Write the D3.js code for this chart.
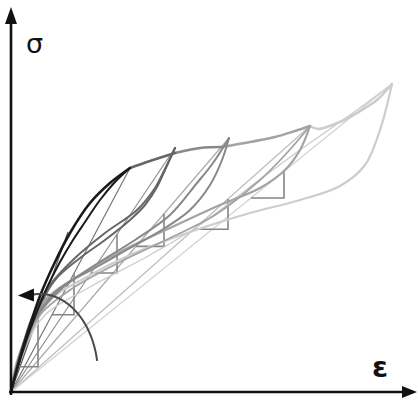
<!DOCTYPE html>
<html>
<head>
<meta charset="utf-8">
<script src="https://cdnjs.cloudflare.com/ajax/libs/d3/7.8.5/d3.min.js"></script>
<style>
  html, body { margin: 0; padding: 0; background: #fff; }
  svg { display: block; }
</style>
</head>
<body>
<svg id="canvas"></svg>
<script>
// strain / stress in arbitrary units (no tick labels on the original)
const peaks = [[119, 224], [164, 244], [218, 254], [299, 266], [381, 308]];

// primary loading curve, split per cycle
const envelope1 = [[0, 0], [7, 27], [15, 54], [29, 96], [44, 130], [59, 159], [79, 189], [99, 209], [119, 224]];
const envelope2 = [[119, 224], [139, 231], [164, 239]];
const envelope3 = [[164, 239], [189, 244], [211, 245]];
const envelope4 = [[211, 245], [239, 250], [264, 255], [284, 261], [299, 266]];
const envelope5 = [[299, 266], [307, 263], [324, 268], [339, 275], [354, 284], [366, 292], [381, 308]];

// reloading curves (origin -> peak)
const reload2 = [[0, 0], [9, 37], [21, 74], [39, 107], [64, 134], [94, 159], [126, 182], [144, 204], [152, 219], [164, 244]];
const reload3 = [[0, 0], [11, 40], [25, 74], [49, 102], [84, 127], [124, 152], [159, 177], [186, 209], [202, 229], [218, 254]];
const reload4 = [[0, 0], [13, 42], [29, 77], [59, 102], [109, 130], [159, 154], [204, 177], [249, 212], [274, 237], [299, 266]];
const reload5 = [[0, 0], [14, 44], [34, 77], [79, 105], [139, 137], [189, 167], [239, 205], [289, 242], [339, 277], [381, 308]];

// unloading curves (peak -> origin)
const unload1 = [[119, 224], [104, 210], [89, 192], [74, 170], [62, 152], [49, 130], [34, 100], [19, 62], [9, 32], [0, 0]];
const unload2 = [[164, 244], [154, 222], [146, 205], [134, 187], [119, 172], [94, 152], [69, 134], [44, 112], [24, 77], [9, 37], [0, 0]];
const unload3 = [[218, 254], [211, 232], [199, 207], [179, 182], [154, 164], [119, 144], [84, 124], [49, 104], [24, 74], [9, 37], [0, 0]];
const unload4 = [[299, 266], [289, 242], [274, 222], [249, 204], [209, 187], [159, 164], [109, 140], [64, 114], [34, 92], [16, 57], [5, 27], [0, 0]];
const unload5 = [[381, 308], [369, 262], [354, 227], [329, 206], [289, 192], [239, 179], [179, 160], [119, 137], [74, 114], [39, 92], [19, 57], [6, 24], [0, 0]];

// initial tangent end point
const tangentEnd = [57, 160];

// slope triangles: [line index (0 = tangent, 1..5 = secant to peak), strain start, strain end]
const triangles = [[0, 9, 27], [1, 41, 63], [2, 80, 106], [3, 125, 153], [4, 183, 217], [5, 240, 273]];

// rotation arc (ellipse in data units) with arrow
const arcCenter = [29, 17];
const arcRadii = [58, 81];
const arcAngles = [10, 97];

const cycleColors = ['#1a1a1a', '#666', '#888', '#a3a3a3', '#cdcdcd'];
const secantColors = ['#555', '#777', '#8f8f8f', '#aaa', '#bdbdbd', '#d2d2d2'];

const width = 418;
const height = 401;

let canvas = d3.select('#canvas')
  .attr('width', width)
  .attr('height', height);

let xScale = d3.scaleLinear().domain([0, 400]).range([11, 411]);
let yScale = d3.scaleLinear().domain([0, 380]).range([392, 12]);

let line = d3.line()
  .x(d => xScale(d[0]))
  .y(d => yScale(d[1]))
  .curve(d3.curveCatmullRom.alpha(0.5));

let straight = d3.line()
  .x(d => xScale(d[0]))
  .y(d => yScale(d[1]));

// secants from origin
let lineEnds = [tangentEnd].concat(peaks);

let drawSecants = () => {
  canvas.append('g')
    .selectAll('path')
    .data(lineEnds)
    .enter()
    .append('path')
    .attr('d', (p) => straight([[0, 0], p]))
    .attr('fill', 'none')
    .attr('stroke', (p, i) => secantColors[i])
    .attr('stroke-width', 1.2);
};

let drawTriangles = () => {
  canvas.append('g')
    .selectAll('path')
    .data(triangles)
    .enter()
    .append('path')
    .attr('d', (t) => {
      let end = lineEnds[t[0]];
      let slope = end[1] / end[0];
      let y0 = slope * t[1];
      let y1 = slope * t[2];
      return straight([[t[1], y0], [t[2], y0], [t[2], y1]]);
    })
    .attr('fill', 'none')
    .attr('stroke', '#858585')
    .attr('stroke-width', 1.6);
};

let drawCycles = () => {
  let curves = [
    {pts: reload5, c: 4, w: 1.4},
    {pts: unload5, c: 4, w: 2.2},
    {pts: envelope5, c: 4, w: 2.6},
    {pts: reload4, c: 3, w: 1.8},
    {pts: unload4, c: 3, w: 2.2},
    {pts: envelope4, c: 3, w: 2.6},
    {pts: reload3, c: 2, w: 2},
    {pts: unload3, c: 2, w: 2},
    {pts: envelope3, c: 2, w: 2.6},
    {pts: reload2, c: 1, w: 2},
    {pts: unload2, c: 1, w: 2},
    {pts: envelope2, c: 1, w: 2.6},
    {pts: unload1, c: 0, w: 2},
    {pts: envelope1, c: 0, w: 2.6}
  ];
  canvas.append('g')
    .selectAll('path')
    .data(curves)
    .enter()
    .append('path')
    .attr('d', (d) => line(d.pts))
    .attr('fill', 'none')
    .attr('stroke', (d) => cycleColors[d.c])
    .attr('stroke-width', (d) => d.w)
    .attr('stroke-linejoin', 'round')
    .attr('stroke-linecap', 'round');
};

let drawArc = () => {
  let angles = d3.range(arcAngles[0], arcAngles[1] + 0.5, 1);
  let pts = angles.map(a => [
    arcCenter[0] + arcRadii[0] * Math.cos(a * Math.PI / 180),
    arcCenter[1] + arcRadii[1] * Math.sin(a * Math.PI / 180)
  ]);
  canvas.append('path')
    .attr('d', straight(pts))
    .attr('fill', 'none')
    .attr('stroke', '#4a4a4a')
    .attr('stroke-width', 2);

  let tip = pts[pts.length - 1];
  let tx = xScale(tip[0]);
  let ty = yScale(tip[1]);
  canvas.append('path')
    .attr('d', `M${tx - 15},${ty + 1} L${tx + 1},${ty - 6} L${tx + 1},${ty + 7} Z`)
    .attr('fill', '#111');
};

let drawAxes = () => {
  let x0 = xScale(0);
  let y0 = yScale(0);
  let axes = canvas.append('g');

  axes.append('line')
    .attr('x1', x0).attr('y1', y0 + 3)
    .attr('x2', x0).attr('y2', 22)
    .attr('stroke', '#111')
    .attr('stroke-width', 2.6);
  axes.append('path')
    .attr('d', `M${x0},7 L${x0 - 6},24 L${x0 + 6},24 Z`)
    .attr('fill', '#111');

  axes.append('line')
    .attr('x1', x0 - 2).attr('y1', y0)
    .attr('x2', 404).attr('y2', y0)
    .attr('stroke', '#111')
    .attr('stroke-width', 2.6);
  axes.append('path')
    .attr('d', `M417,${y0} L402,${y0 - 6} L402,${y0 + 6} Z`)
    .attr('fill', '#111');

  axes.append('text')
    .attr('x', 26)
    .attr('y', 53)
    .attr('font-family', 'DejaVu Sans')
    .attr('font-size', 27)
    .attr('fill', '#111')
    .text('σ');

  axes.append('text')
    .attr('x', 372)
    .attr('y', 377)
    .attr('font-family', 'DejaVu Sans')
    .attr('font-size', 29)
    .attr('font-weight', 'bold')
    .attr('fill', '#111')
    .text('ε');
};

drawSecants();
drawTriangles();
drawCycles();
drawArc();
drawAxes();
</script>
</body>
</html>
